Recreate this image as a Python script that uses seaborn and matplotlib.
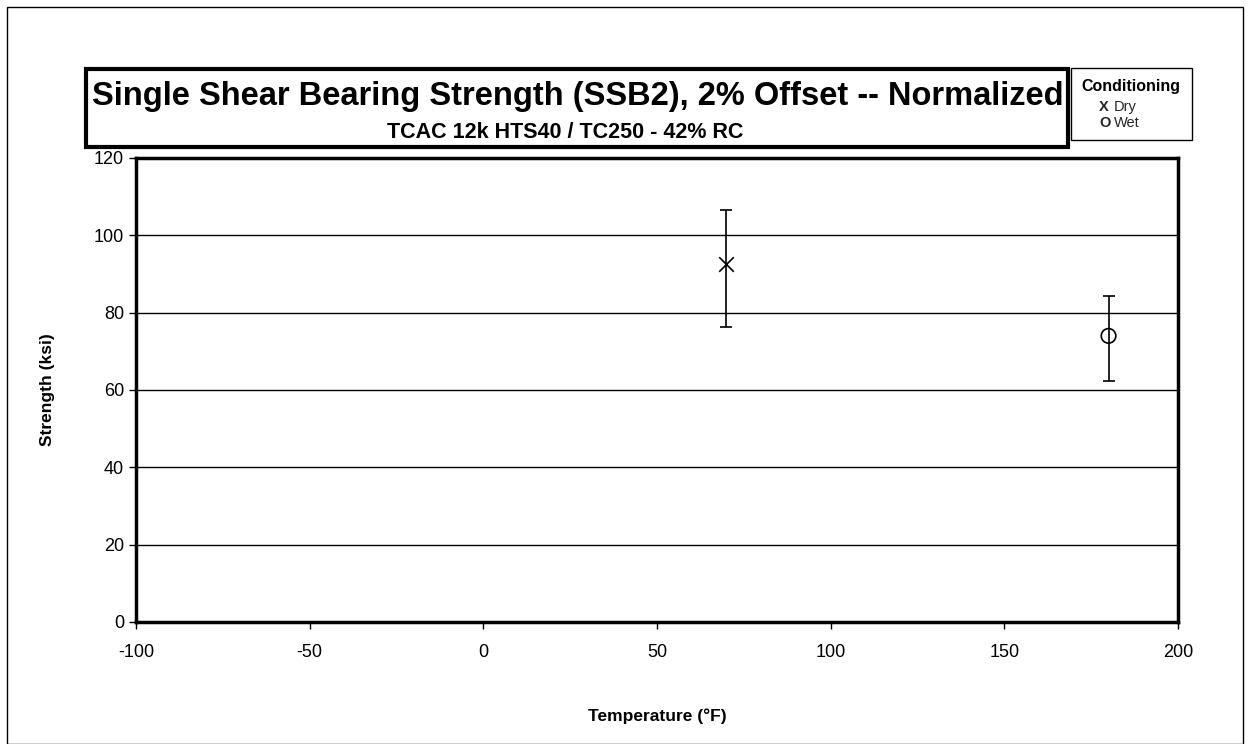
import numpy as np
import pandas as pd
import seaborn as sns
import matplotlib.pyplot as plt
from matplotlib.patches import Rectangle

# data
conditions = ['Dry', 'Wet']
temps = [70, 180]
strength_mean = [92.5, 74.0]
strength_max = [106.5, 84.3]
strength_min = [76.3, 62.4]

df = pd.DataFrame({'Conditioning': conditions, 'Temperature': temps,
                   'Strength': strength_mean, 'Max': strength_max, 'Min': strength_min})

sns.set_style('white')
plt.rcParams['font.family'] = ['Liberation Sans', 'DejaVu Sans']
plt.rcParams['axes.unicode_minus'] = False

fig = plt.figure(figsize=(12.51, 7.44), dpi=100)
ax = fig.add_axes([136 / 1251, 1 - 622 / 744, 1042 / 1251, 464 / 744])

# error bars (min / max)
for i, row in df.iterrows():
    ax.errorbar(row['Temperature'], row['Strength'],
                yerr=[[row['Strength'] - row['Min']], [row['Max'] - row['Strength']]],
                fmt='none', ecolor='black', elinewidth=1.2, capsize=4, capthick=1.2, zorder=3)

sns.scatterplot(data=df[df['Conditioning'] == 'Dry'], x='Temperature', y='Strength',
                marker='x', color='black', s=110, linewidth=1.2, ax=ax, zorder=4, legend=False)
sns.scatterplot(data=df[df['Conditioning'] == 'Wet'], x='Temperature', y='Strength',
                marker='o', facecolor='none', edgecolor='black', s=110, linewidth=1.2,
                ax=ax, zorder=4, legend=False)

ax.set_xlim(-100, 200)
ax.set_ylim(0, 120)
ax.set_xticks(np.arange(-100, 201, 50))
ax.set_yticks(np.arange(0, 121, 20))
ax.yaxis.grid(True, color='black', linewidth=1)
ax.set_axisbelow(True)
for s in ax.spines.values():
    s.set_visible(True)
    s.set_color('black')
    s.set_linewidth(2.5)
ax.tick_params(axis='both', which='major', labelsize=13, colors='black',
               direction='out', length=5, width=1, left=True, bottom=True)
ax.tick_params(axis='x', pad=11)
ax.set_xlabel('Temperature (°F)', fontsize=12.5, fontweight='bold', labelpad=34, color='black')
ax.set_ylabel('Strength (ksi)', fontsize=12.5, fontweight='bold', labelpad=28, color='black')

# outer frame
fig.patches.append(Rectangle((7 / 1251, 0), 1236 / 1251, 737 / 744, transform=fig.transFigure,
                             fill=False, edgecolor='black', linewidth=1))
# title box
fig.patches.append(Rectangle((86 / 1251, 1 - 147 / 744), 982 / 1251, 78 / 744,
                             transform=fig.transFigure, fill=False, edgecolor='black', linewidth=3))
fig.text(578 / 1251, 1 - 97 / 744, 'Single Shear Bearing Strength (SSB2), 2% Offset -- Normalized',
         ha='center', va='center', fontsize=23.5, fontweight='bold', color='black')
fig.text(565 / 1251, 1 - 132 / 744, 'TCAC 12k HTS40 / TC250 - 42% RC',
         ha='center', va='center', fontsize=15.5, fontweight='bold', color='black')

# legend box
fig.patches.append(Rectangle((1071 / 1251, 1 - 140 / 744), 121 / 1251, 72 / 744,
                             transform=fig.transFigure, fill=False, edgecolor='black', linewidth=1))
fig.text(1131 / 1251, 1 - 87 / 744, 'Conditioning', ha='center', va='center',
         fontsize=11.5, fontweight='bold', color='black')
fig.text(1099 / 1251, 1 - 107 / 744, 'X', ha='left', va='center', fontsize=10.5, fontweight='bold')
fig.text(1114 / 1251, 1 - 107 / 744, conditions[0], ha='left', va='center', fontsize=10.5)
fig.text(1099 / 1251, 1 - 123 / 744, 'O', ha='left', va='center', fontsize=10.5, fontweight='bold')
fig.text(1114 / 1251, 1 - 123 / 744, conditions[1], ha='left', va='center', fontsize=10.5)

fig.savefig('out.png', dpi=100)
